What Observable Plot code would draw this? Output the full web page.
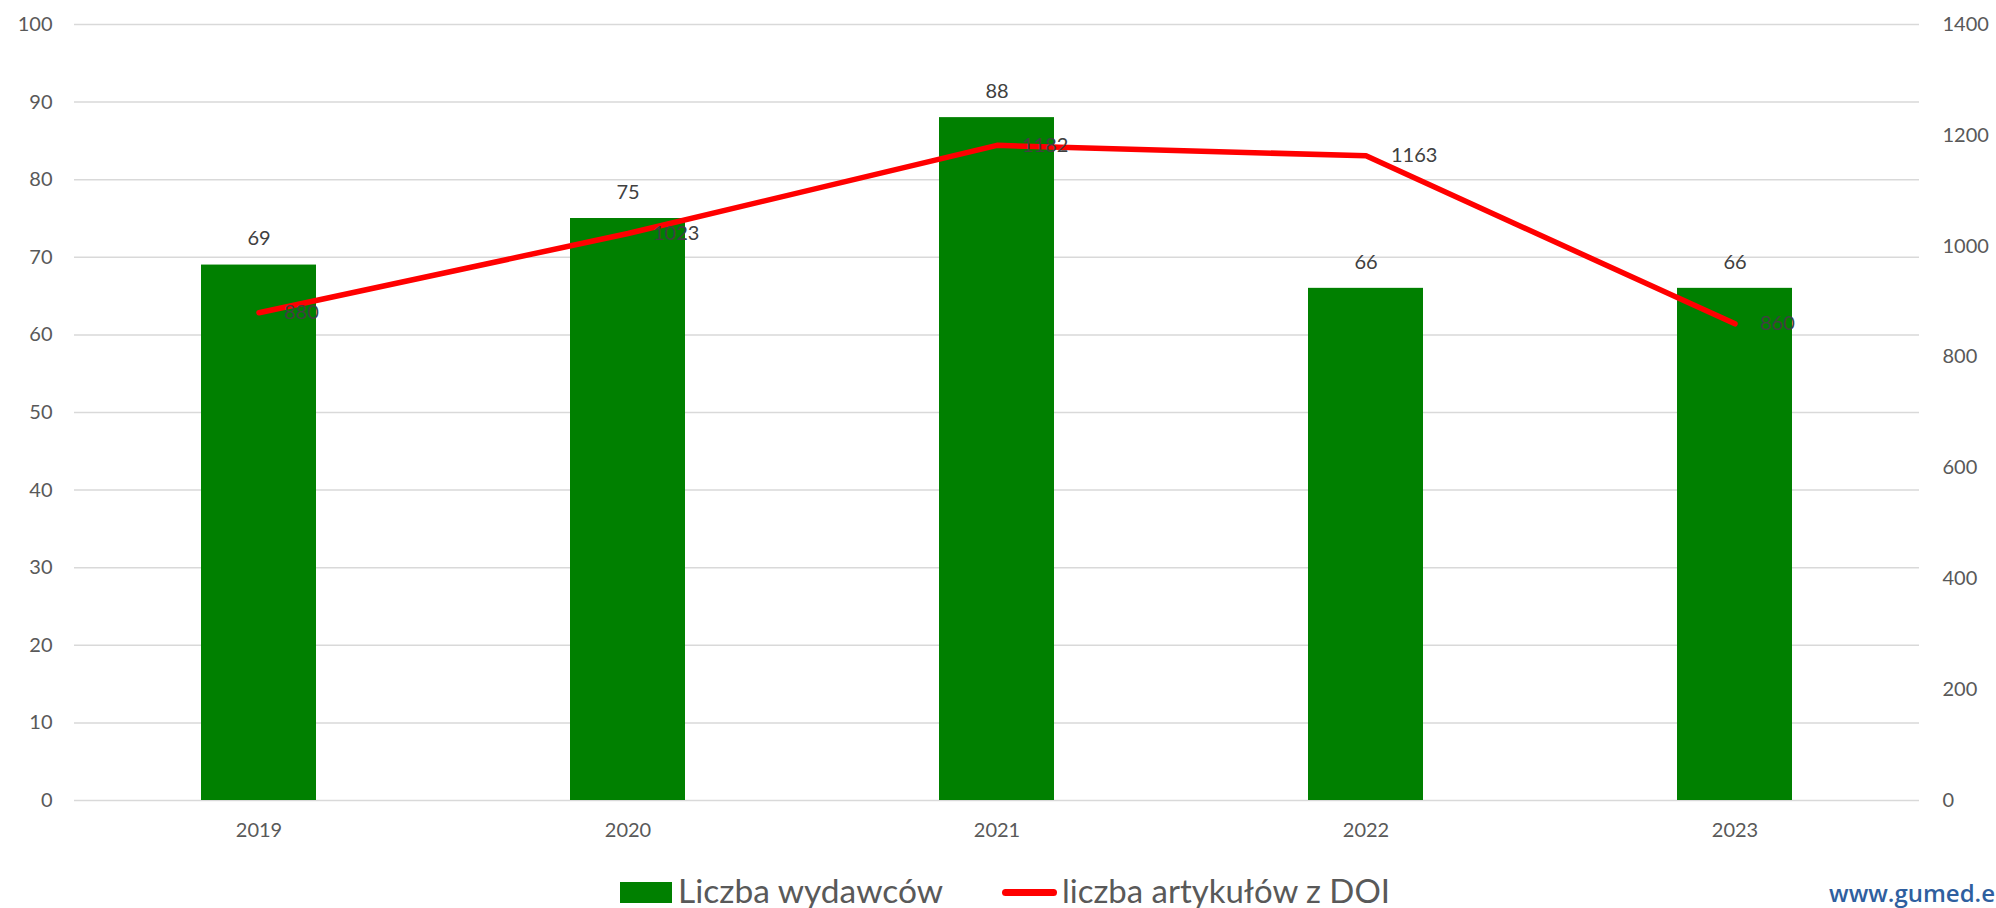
<!DOCTYPE html>
<html>
<head>
<meta charset="utf-8">
<script src="https://cdn.jsdelivr.net/npm/d3@7"></script>
<script src="https://cdn.jsdelivr.net/npm/@observablehq/plot@0.6"></script>
<style>
  html, body { margin: 0; padding: 0; background: #fff; overflow: hidden; }
  body { width: 1996px; height: 908px; position: relative; font-family: Lato, "Open Sans", sans-serif; }
  #chart svg { display: block; }
  .legend { position: absolute; top: 0; left: 0; width: 1996px; height: 908px; pointer-events: none; font-size: 32px; color: #595959; }
  .legend .sw-bar { position: absolute; left: 620px; top: 882px; width: 52px; height: 21px; background: #008000; }
  .legend .sw-line { position: absolute; left: 1002px; top: 889px; width: 55px; height: 6.5px; background: #ff0000; border-radius: 3.5px; }
  .legend .lab { position: absolute; top: 874.6px; white-space: nowrap; transform-origin: 0 50%; display: inline-block; line-height: 32px; }
  .wm { position: absolute; right: 1px; top: 876px; font-size: 24px; font-weight: 600; color: #2f5f9f; font-family: "Open Sans", sans-serif; white-space: nowrap; }
</style>
</head>
<body>
<div id="chart"></div>
<div class="legend">
  <span class="sw-bar"></span><span class="lab" id="lab1" style="left:678px">Liczba wydawców</span>
  <span class="sw-line"></span><span class="lab" id="lab2" style="left:1062px">liczba artykułów z DOI</span>
</div>
<div class="wm">www.gumed.e</div>
<script>
const years = ["2019", "2020", "2021", "2022", "2023"];
const publishers = [69, 75, 88, 66, 66];
const articles = [880, 1023, 1182, 1163, 860];
const leftTicks = [0, 10, 20, 30, 40, 50, 60, 70, 80, 90, 100];
const rightTicks = [0, 200, 400, 600, 800, 1000, 1200, 1400];
const leftMax = 100;
const rightMax = 1400;

const toLeft = v => v * leftMax / rightMax;

const barData = years.map((y, i) => ({year: y, value: publishers[i]}));
const lineData = years.map((y, i) => ({year: y, value: articles[i], scaled: toLeft(articles[i])}));

const chart = Plot.plot({
  width: 1996,
  height: 860,
  marginTop: 24,
  marginBottom: 60,
  marginLeft: 74,
  marginRight: 77,
  style: {fontFamily: "Lato, 'Open Sans', sans-serif", fontSize: "20px", color: "#595959", background: "#fff"},
  x: {type: "band", domain: years, paddingInner: 0.688, paddingOuter: 0.344, label: null},
  y: {domain: [0, leftMax], label: null},
  marks: [
    Plot.ruleY(leftTicks, {stroke: "#d9d9d9", strokeWidth: 1.5}),
    Plot.barY(barData, {x: "year", y: "value", fill: "#008000"}),
    Plot.text(barData, {x: "year", y: "value", text: d => String(d.value), dy: -26, fill: "#404040", fontSize: 20}),
    Plot.line(lineData, {x: "year", y: "scaled", stroke: "#ff0000", strokeWidth: 5.5, strokeLinecap: "round", strokeLinejoin: "round"}),
    Plot.text(lineData, {x: "year", y: "scaled", text: d => String(d.value), dx: 25, textAnchor: "start", fill: "#404040", fontSize: 20}),
    Plot.axisY(leftTicks, {anchor: "left", tickSize: 0, tickPadding: 22, label: null, fill: "#595959", fontSize: 20}),
    Plot.axisY(rightTicks.map(toLeft), {anchor: "right", tickSize: 0, tickPadding: 23, label: null, tickFormat: d => String(Math.round(d * rightMax / leftMax)), fill: "#595959", fontSize: 20}),
    Plot.axisX({anchor: "bottom", tickSize: 0, tickPadding: 22, label: null, fill: "#595959", fontSize: 20})
  ]
});
document.getElementById("chart").appendChild(chart);

// Condense legend labels to the reference widths (Calibri-like narrow face)
[["lab1", 265], ["lab2", 328]].forEach(([id, target]) => {
  const el = document.getElementById(id);
  const w = el.getBoundingClientRect().width;
  if (w > 0) el.style.transform = `scaleX(${target / w})`;
});
</script>
</body>
</html>
